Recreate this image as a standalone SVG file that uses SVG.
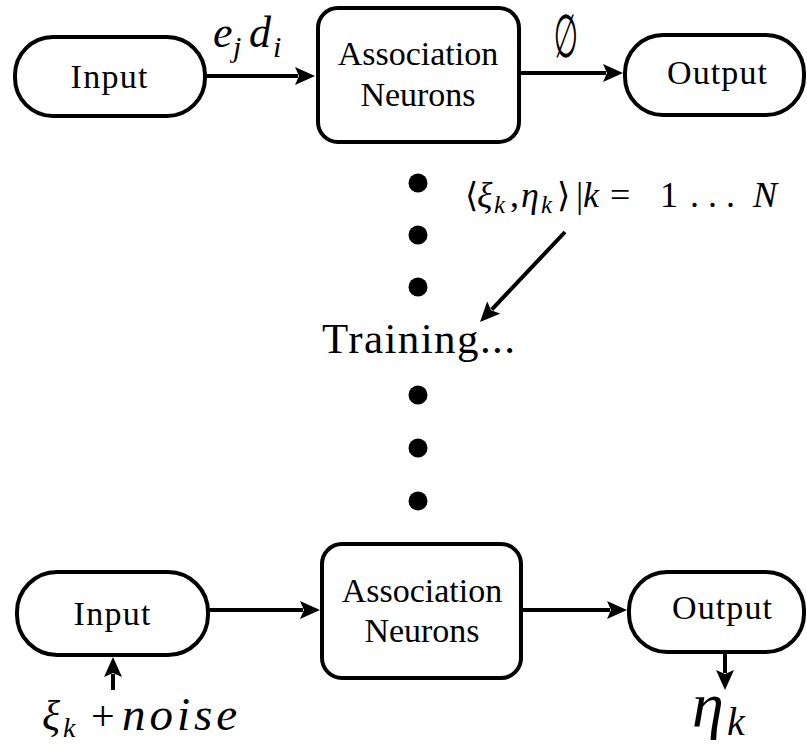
<svg xmlns="http://www.w3.org/2000/svg" width="807" height="747" viewBox="0 0 807 747">
<style>
.box{fill:#fff;stroke:#000;stroke-width:4}
.conn{stroke:#000;stroke-width:4;fill:none}
.dot{fill:#000}
.lbl{font-size:34px;text-anchor:middle}
</style>
<defs>
<marker id="arr" viewBox="0 0 20 18" refX="3" refY="9" markerWidth="20" markerHeight="18" markerUnits="userSpaceOnUse" orient="auto">
<path d="M0,0 L20,9 L0,18 L4,9 z" fill="#000"/>
</marker>
</defs>

<g id="connectors">
<line class="conn" x1="205" y1="76" x2="298" y2="76" marker-end="url(#arr)"/>
<line class="conn" x1="519" y1="73" x2="606" y2="73" marker-end="url(#arr)"/>
<line class="conn" x1="565" y1="232" x2="491.7" y2="309.6" marker-end="url(#arr)"/>
<line class="conn" x1="208" y1="610" x2="303" y2="610" marker-end="url(#arr)"/>
<line class="conn" x1="521" y1="610" x2="610" y2="610" marker-end="url(#arr)"/>
<line class="conn" x1="113" y1="690" x2="113" y2="674" marker-end="url(#arr)"/>
<line class="conn" x1="725" y1="652" x2="725" y2="673" marker-end="url(#arr)"/>
</g>

<g fill="#000" font-family="Tinos, 'Times New Roman', 'Liberation Serif', serif">
<g id="input-top">
<rect class="box" x="15" y="37" width="190" height="79" rx="38" ry="38"/>
<text class="lbl" x="109" y="88" textLength="77" lengthAdjust="spacing">Input</text>
</g>
<g id="assoc-top">
<rect class="box" x="318" y="8" width="201" height="134" rx="20" ry="20"/>
<text class="lbl" x="418" y="65">Association</text>
<text class="lbl" x="418" y="106">Neurons</text>
</g>
<g id="output-top">
<rect class="box" x="625" y="35" width="179" height="80" rx="38" ry="38"/>
<text class="lbl" x="717" y="84" textLength="100" lengthAdjust="spacing">Output</text>
</g>

<g id="label-ejdi">
<text y="47" font-size="44" font-style="italic"><tspan x="213">e</tspan><tspan x="233" y="57" font-size="30">j</tspan><tspan x="249" y="47">d</tspan><tspan x="273" y="57" font-size="30">i</tspan></text>
</g>
<g id="label-empty">
<text font-family="DejaVu Sans, sans-serif" font-size="48" text-anchor="middle" transform="translate(566,57) scale(0.58,1.25)">∅</text>
</g>

<g id="dots">
<circle class="dot" cx="418" cy="183" r="9.5"/>
<circle class="dot" cx="418" cy="235" r="9.5"/>
<circle class="dot" cx="418" cy="287" r="9.5"/>
<circle class="dot" cx="418" cy="395" r="9.5"/>
<circle class="dot" cx="418" cy="448" r="9.5"/>
<circle class="dot" cx="418" cy="501" r="9.5"/>
</g>

<g id="training-set">
<text y="207" font-size="36"><tspan x="465" font-family="DejaVu Sans, sans-serif" font-size="34">⟨</tspan><tspan x="477" font-style="italic">ξ</tspan><tspan x="494" y="213" font-style="italic" font-size="25">k</tspan><tspan x="510" y="207">,</tspan><tspan x="521" font-style="italic">η</tspan><tspan x="541" y="213" font-style="italic" font-size="25">k</tspan><tspan x="557" y="207" font-family="DejaVu Sans, sans-serif" font-size="34">⟩</tspan><tspan x="576">|</tspan><tspan x="583" font-style="italic">k</tspan><tspan x="610">=</tspan><tspan x="660">1</tspan><tspan x="690">. . .</tspan><tspan x="753" font-style="italic">N</tspan></text>
</g>

<g id="training">
<text x="322" y="353" font-size="43" textLength="193" lengthAdjust="spacing">Training...</text>
</g>

<g id="input-bottom">
<rect class="box" x="17" y="572" width="191" height="83" rx="40" ry="40"/>
<text class="lbl" x="112" y="625" textLength="77" lengthAdjust="spacing">Input</text>
</g>
<g id="assoc-bottom">
<rect class="box" x="322" y="544" width="199" height="134" rx="20" ry="20"/>
<text class="lbl" x="422" y="602">Association</text>
<text class="lbl" x="422" y="642">Neurons</text>
</g>
<g id="output-bottom">
<rect class="box" x="629" y="572" width="175" height="80" rx="38" ry="38"/>
<text class="lbl" x="722" y="619" textLength="100" lengthAdjust="spacing">Output</text>
</g>

<g id="label-noise">
<text y="730" font-size="42"><tspan x="42" font-style="italic">ξ</tspan><tspan x="63" y="737" font-style="italic" font-size="28">k</tspan><tspan x="91" y="730">+</tspan><tspan x="122" font-style="italic" font-size="47" textLength="115" lengthAdjust="spacing">noise</tspan></text>
</g>
<g id="label-eta">
<text y="726" font-size="64" font-style="italic"><tspan x="692">η</tspan><tspan x="727" y="735" font-size="40">k</tspan></text>
</g>
</g>
</svg>
